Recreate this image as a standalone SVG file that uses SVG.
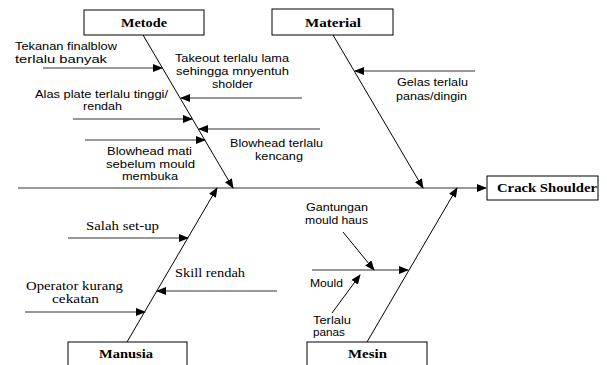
<svg xmlns="http://www.w3.org/2000/svg" width="607" height="365" viewBox="0 0 607 365">
<style>
.box{fill:#fff;stroke:#000;stroke-width:1}
.title{font-family:"Liberation Serif",serif;font-weight:bold;font-size:12px;fill:#000}
.sans{font-family:"Liberation Sans",Arial,sans-serif;font-size:11.5px;fill:#000}
.serif{font-family:"Liberation Serif",serif;font-size:12.5px;fill:#000}
.ln{stroke:#000;stroke-width:1;fill:none}
.hl{stroke:#333;stroke-width:1.2;fill:none}
</style>
<defs>
<marker id="ah" markerWidth="10" markerHeight="8" refX="9" refY="4" orient="auto" markerUnits="userSpaceOnUse">
<path d="M0,0 L10,4 L0,8 Z" fill="#000"/>
</marker>
</defs>
<rect width="607" height="365" fill="#fff"/>
<g id="connectors">
<line class="hl" x1="18" y1="188" x2="486" y2="188" marker-end="url(#ah)"/>
<line class="ln" x1="143" y1="35" x2="233" y2="188" marker-end="url(#ah)"/>
<line class="ln" x1="333" y1="35" x2="423" y2="188" marker-end="url(#ah)"/>
<line class="ln" x1="127" y1="342" x2="217" y2="188" marker-end="url(#ah)"/>
<line class="ln" x1="367" y1="342" x2="457" y2="188" marker-end="url(#ah)"/>
<line class="hl" x1="43" y1="68" x2="162" y2="68" marker-end="url(#ah)"/>
<line class="hl" x1="302" y1="98" x2="181" y2="98" marker-end="url(#ah)"/>
<line class="hl" x1="73" y1="119" x2="192" y2="119" marker-end="url(#ah)"/>
<line class="hl" x1="320" y1="129" x2="199" y2="129" marker-end="url(#ah)"/>
<line class="hl" x1="85" y1="140" x2="205" y2="140" marker-end="url(#ah)"/>
<line class="hl" x1="475" y1="71" x2="355" y2="71" marker-end="url(#ah)"/>
<line class="hl" x1="68" y1="238" x2="188" y2="238" marker-end="url(#ah)"/>
<line class="hl" x1="277" y1="291" x2="157" y2="291" marker-end="url(#ah)"/>
<line class="hl" x1="25" y1="312" x2="145" y2="312" marker-end="url(#ah)"/>
<line class="hl" x1="312" y1="270" x2="408" y2="270" marker-end="url(#ah)"/>
<line class="ln" x1="343" y1="232" x2="374" y2="270" marker-end="url(#ah)"/>
<line class="ln" x1="332" y1="313" x2="360" y2="275" marker-end="url(#ah)"/>
</g>
<g id="metode"><rect class="box" x="84" y="10" width="120" height="25"/><text class="title" x="121" y="27" textLength="46" lengthAdjust="spacingAndGlyphs">Metode</text></g>
<g id="material"><rect class="box" x="272" y="9" width="121" height="26"/><text class="title" x="305" y="27" textLength="56" lengthAdjust="spacingAndGlyphs">Material</text></g>
<g id="manusia"><rect class="box" x="68" y="342" width="119" height="30"/><text class="title" x="99" y="358" textLength="54" lengthAdjust="spacingAndGlyphs">Manusia</text></g>
<g id="mesin"><rect class="box" x="307" y="342" width="120" height="30"/><text class="title" x="348" y="358" textLength="39" lengthAdjust="spacingAndGlyphs">Mesin</text></g>
<g id="crack"><rect class="box" x="487" y="176" width="111" height="24"/><text class="title" x="497" y="192" textLength="100" lengthAdjust="spacingAndGlyphs">Crack Shoulder</text></g>
<g id="labels">
<text class="sans" x="15" y="50" textLength="102" lengthAdjust="spacingAndGlyphs">Tekanan finalblow</text>
<text class="sans" x="15" y="63" textLength="92" lengthAdjust="spacingAndGlyphs">terlalu banyak</text>
<text class="sans" x="175" y="62" textLength="114" lengthAdjust="spacingAndGlyphs">Takeout terlalu lama</text>
<text class="sans" x="176" y="75" textLength="113" lengthAdjust="spacingAndGlyphs">sehingga mnyentuh</text>
<text class="sans" x="212" y="88" textLength="41" lengthAdjust="spacingAndGlyphs">sholder</text>
<text class="sans" x="35" y="98" textLength="133" lengthAdjust="spacingAndGlyphs">Alas plate terlalu tinggi/</text>
<text class="sans" x="83" y="110" textLength="39" lengthAdjust="spacingAndGlyphs">rendah</text>
<text class="sans" x="230" y="147" textLength="93" lengthAdjust="spacingAndGlyphs">Blowhead terlalu</text>
<text class="sans" x="255" y="160" textLength="48" lengthAdjust="spacingAndGlyphs">kencang</text>
<text class="sans" x="107" y="155" textLength="85" lengthAdjust="spacingAndGlyphs">Blowhead mati</text>
<text class="sans" x="106" y="168" textLength="89" lengthAdjust="spacingAndGlyphs">sebelum mould</text>
<text class="sans" x="122" y="180" textLength="56" lengthAdjust="spacingAndGlyphs">membuka</text>
<text class="sans" x="397" y="86" textLength="71" lengthAdjust="spacingAndGlyphs">Gelas terlalu</text>
<text class="sans" x="396" y="100" textLength="71" lengthAdjust="spacingAndGlyphs">panas/dingin</text>
<text class="serif" x="86" y="230" textLength="73" lengthAdjust="spacingAndGlyphs">Salah set-up</text>
<text class="serif" x="175" y="277" textLength="70" lengthAdjust="spacingAndGlyphs">Skill rendah</text>
<text class="serif" x="26" y="290" textLength="97" lengthAdjust="spacingAndGlyphs">Operator kurang</text>
<text class="serif" x="52" y="303" textLength="47" lengthAdjust="spacingAndGlyphs">cekatan</text>
<text class="sans" x="306" y="211" textLength="62" lengthAdjust="spacingAndGlyphs">Gantungan</text>
<text class="sans" x="305" y="224" textLength="63" lengthAdjust="spacingAndGlyphs">mould haus</text>
<text class="sans" x="310" y="287" textLength="33" lengthAdjust="spacingAndGlyphs">Mould</text>
<text class="sans" x="313" y="324" textLength="38" lengthAdjust="spacingAndGlyphs">Terlalu</text>
<text class="sans" x="313" y="336" textLength="32" lengthAdjust="spacingAndGlyphs">panas</text>
</g>
</svg>
